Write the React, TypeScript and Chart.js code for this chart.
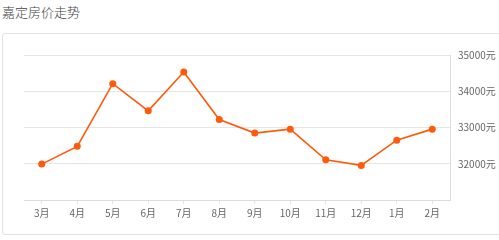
import React, { useEffect, useRef } from "react";
import { Chart, registerables } from "chart.js";

Chart.register(...registerables);

const title = "嘉定房价走势";
const months = ["3月", "4月", "5月", "6月", "7月", "8月", "9月", "10月", "11月", "12月", "1月", "2月"];
const prices = [31990, 32480, 34210, 33460, 34530, 33220, 32845, 32955, 32110, 31955, 32650, 32955];
const yMin = 31000;
const yMax = 35000;
const yStep = 1000;
const yUnit = "元";

export default function App() {
  const ref = useRef<HTMLCanvasElement | null>(null);

  useEffect(() => {
    const canvas = ref.current;
    if (!canvas) return;
    const font = { family: "'Noto Sans CJK SC', 'Noto Sans', sans-serif", size: 10 };
    const chart = new Chart(canvas, {
      type: "line",
      data: {
        labels: months,
        datasets: [
          {
            data: prices,
            borderColor: "#ff5a0a",
            backgroundColor: "#ff5a0a",
            borderWidth: 1.6,
            pointRadius: 3.5,
            pointBorderWidth: 0,
            pointBackgroundColor: "#ff5a0a",
            tension: 0,
            fill: false,
          },
        ],
      },
      options: {
        animation: false,
        responsive: false,
        maintainAspectRatio: false,
        layout: { padding: { left: 24, top: 55, right: 0, bottom: 0 } },
        plugins: { legend: { display: false }, tooltip: { enabled: false }, title: { display: false } },
        scales: {
          x: {
            offset: true,
            grid: { drawOnChartArea: false, drawTicks: true, tickLength: 4, color: "#e3e3e3" },
            border: { display: true, color: "#dcdcdc" },
            ticks: { color: "#666", font, padding: 3, maxRotation: 0, autoSkip: false },
            afterFit: (s: any) => {
              s.height = 40;
            },
          },
          y: {
            position: "right",
            min: yMin,
            max: yMax,
            grid: { drawTicks: false, color: "#e6e6e6" },
            border: { display: true, color: "#dcdcdc" },
            ticks: {
              stepSize: yStep,
              color: "#666",
              font,
              padding: 8,
              callback: (v: any) => (Number(v) === yMin ? "" : `${v}${yUnit}`),
            },
            afterFit: (s: any) => {
              s.width = 49;
            },
          },
        },
      },
    });
    return () => chart.destroy();
  }, []);

  return (
    <div style={{ position: "absolute", left: 0, top: 0, width: 499, height: 240, overflow: "hidden", background: "#fff" }}>
      <div
        style={{
          position: "absolute",
          left: 2,
          top: 3,
          fontFamily: "'Noto Sans CJK SC', sans-serif",
          fontSize: 13,
          fontWeight: 300,
          color: "#444",
          lineHeight: "18px",
        }}
      >
        {title}
      </div>
      <div
        style={{
          position: "absolute",
          left: 2,
          top: 33,
          width: 510,
          height: 202,
          border: "1px solid #e2e2e2",
          borderRadius: 3,
          boxSizing: "border-box",
        }}
      />
      <canvas ref={ref} width={499} height={240} style={{ position: "absolute", left: 0, top: 0, width: 499, height: 240 }} />
    </div>
  );
}
